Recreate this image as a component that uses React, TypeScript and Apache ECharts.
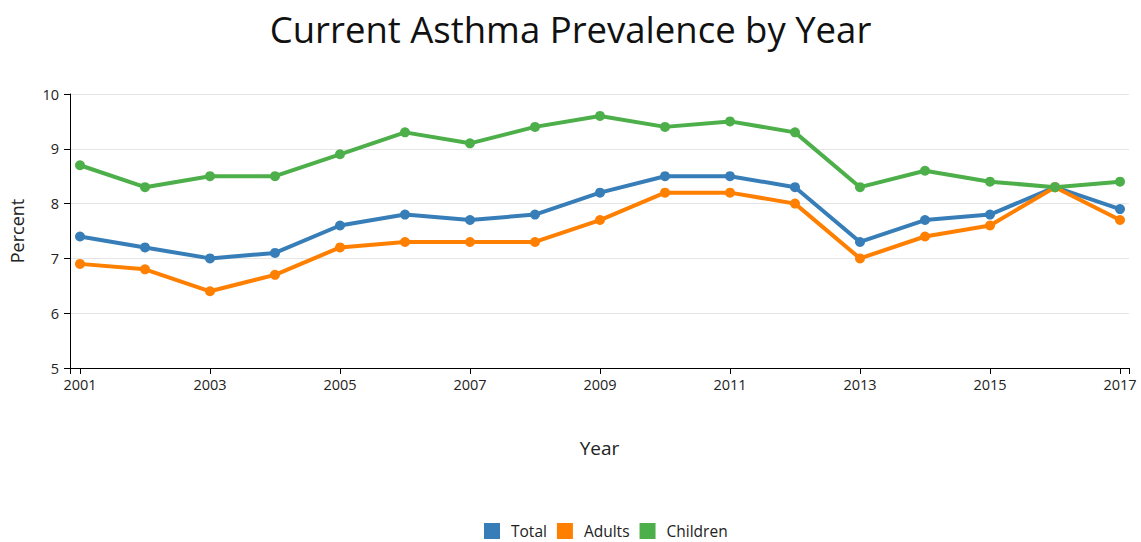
import React, { useEffect, useRef } from "react";
import * as echarts from "echarts";

const years = [
  "2001", "2002", "2003", "2004", "2005", "2006", "2007", "2008", "2009",
  "2010", "2011", "2012", "2013", "2014", "2015", "2016", "2017",
];
const total = [7.4, 7.2, 7.0, 7.1, 7.6, 7.8, 7.7, 7.8, 8.2, 8.5, 8.5, 8.3, 7.3, 7.7, 7.8, 8.3, 7.9];
const adults = [6.9, 6.8, 6.4, 6.7, 7.2, 7.3, 7.3, 7.3, 7.7, 8.2, 8.2, 8.0, 7.0, 7.4, 7.6, 8.3, 7.7];
const children = [8.7, 8.3, 8.5, 8.5, 8.9, 9.3, 9.1, 9.4, 9.6, 9.4, 9.5, 9.3, 8.3, 8.6, 8.4, 8.3, 8.4];

const seriesNames = ["Total", "Adults", "Children"];
const seriesColors = ["#377eb8", "#ff7f00", "#4daf4a"];
const yTicks = { min: 5, max: 10, interval: 1 };

const FONT = "'Open Sans', 'Noto Sans', sans-serif";
const TEXT = "#222";

export default function App() {
  const ref = useRef<HTMLDivElement>(null);

  useEffect(() => {
    if (!ref.current) return;
    const chart = echarts.init(ref.current, undefined, { renderer: "svg" });
    const data = [total, adults, children];

    chart.setOption({
      animation: false,
      backgroundColor: "#fff",
      textStyle: { fontFamily: FONT },
      title: {
        text: "Current Asthma Prevalence by Year",
        left: "center",
        top: 5,
        textStyle: { fontFamily: FONT, fontSize: 36.5, fontWeight: "normal", color: "#111" },
      },
      legend: {
        top: 523,
        left: 484,
        padding: 0,
        itemWidth: 16,
        itemHeight: 16,
        itemGap: 10,
        icon: "rect",
        textStyle: { fontFamily: FONT, fontSize: 15.5, color: TEXT, padding: [0, 0, 0, 6] },
        data: seriesNames,
      },
      grid: [
        // data area: first and last year sit inside the framed area
        { left: 80, right: 21, top: 94, bottom: 174 },
        // frame area: y axis, gridlines and x-axis baseline
        { left: 70, right: 12, top: 94, bottom: 174 },
      ],
      xAxis: [
        {
          type: "category",
          gridIndex: 0,
          data: years,
          boundaryGap: false,
          axisLine: { show: false },
          axisTick: { show: true, length: 6, lineStyle: { color: "#000" } },
          axisLabel: {
            interval: 1,
            fontSize: 14.5,
            color: TEXT,
            fontFamily: FONT,
            margin: 9,
          },
          splitLine: { show: false },
        },
        {
          type: "value",
          gridIndex: 1,
          min: 0,
          max: 1,
          interval: 1,
          axisLine: { show: true, lineStyle: { color: "#000", width: 1 } },
          axisTick: { show: true, length: 6, lineStyle: { color: "#000" } },
          axisLabel: { show: false },
          splitLine: { show: false },
          name: "Year",
          nameLocation: "middle",
          nameGap: 70,
          nameTextStyle: { fontFamily: FONT, fontSize: 19, color: TEXT },
        },
      ],
      yAxis: [
        {
          type: "value",
          gridIndex: 0,
          ...yTicks,
          show: false,
          splitLine: { show: false },
        },
        {
          type: "value",
          gridIndex: 1,
          ...yTicks,
          axisLine: { show: true, lineStyle: { color: "#000", width: 1 } },
          axisTick: { show: true, length: 6, lineStyle: { color: "#000" } },
          axisLabel: { fontSize: 14.5, color: TEXT, fontFamily: FONT, margin: 11 },
          splitLine: { show: true, lineStyle: { color: "#e5e5e5", width: 1 } },
          name: "Percent",
          nameLocation: "middle",
          nameGap: 44,
          nameTextStyle: { fontFamily: FONT, fontSize: 18, color: TEXT },
        },
      ],
      series: seriesNames.map((name, i) => ({
        name,
        type: "line",
        xAxisIndex: 0,
        yAxisIndex: 0,
        data: data[i],
        color: seriesColors[i],
        symbol: "circle",
        symbolSize: 10,
        lineStyle: { width: 4, color: seriesColors[i] },
        itemStyle: { color: seriesColors[i] },
      })),
    });

    return () => chart.dispose();
  }, []);

  return (
    <div
      ref={ref}
      style={{ position: "absolute", left: 0, top: 0, width: 1141, height: 542 }}
    />
  );
}
